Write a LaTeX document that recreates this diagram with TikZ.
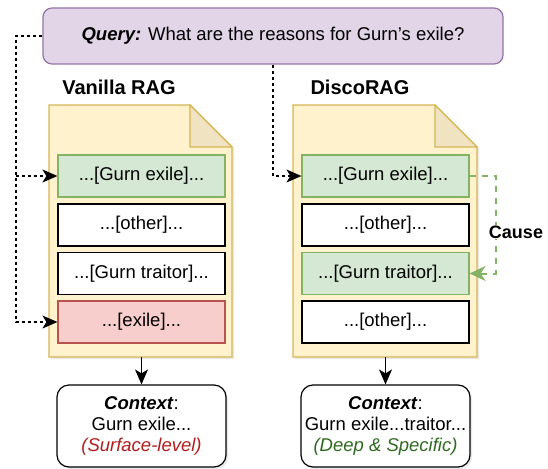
\documentclass[tikz,border=0pt]{standalone}
\usepackage{fontspec}
\setmainfont{Liberation Sans}
\usepackage{xcolor}
\usetikzlibrary{arrows.meta, calc, positioning, shadows}

\definecolor{qfill}{HTML}{E1D5E7}
\definecolor{qline}{HTML}{9673A6}
\definecolor{docfill}{HTML}{FFF2CC}
\definecolor{docline}{HTML}{D6B656}
\definecolor{foldfill}{HTML}{EFE3C2}
\definecolor{hitfill}{HTML}{D5E8D4}
\definecolor{hitline}{HTML}{82B366}
\definecolor{missfill}{HTML}{F8CECC}
\definecolor{missline}{HTML}{B85450}
\definecolor{shallow}{HTML}{B01E1E}
\definecolor{deep}{HTML}{2D6A1F}

\begin{document}
\begin{tikzpicture}[x=1pt, y=-1pt, line width=1.2pt,
    font=\fontsize{18.5}{22}\selectfont,
    softshadow/.style={drop shadow={shadow xshift=2pt, shadow yshift=-2pt, opacity=0.18}},
    chunk/.style={draw, fill=white, minimum width=167pt, minimum height=42pt, inner sep=0pt},
    hit/.style={chunk, draw=hitline, fill=hitfill},
    miss/.style={chunk, draw=missline, fill=missfill},
    ctxbox/.style={draw, fill=white, rounded corners=12pt, minimum width=169pt, minimum height=82pt,
        align=center, inner sep=0pt, softshadow, font=\fontsize{18.5}{21}\selectfont},
    title/.style={font=\fontsize{20}{24}\selectfont\bfseries},
    tip/.style={-{Stealth[length=15pt, width=13pt, inset=4pt]}},
    qlink/.style={dash pattern=on 3pt off 3pt, tip},
    causelink/.style={hitline, line width=2pt, dash pattern=on 6pt off 6pt, -{Stealth[length=16pt, width=15pt, inset=5pt]}}]
    \useasboundingbox (0,0) rectangle (548,468);

    % query
    \node[draw=qline, fill=qfill, rounded corners=9pt, minimum width=460pt, minimum height=56pt]
        (query) at (273,36) {\textbf{\textit{Query:}} What are the reasons for Gurn's exile?};

    \node[title] (vtitle) at (119,87) {Vanilla RAG};
    \node[title] (dtitle) at (360,87) {DiscoRAG};

    % documents
    \draw[docline, fill=docfill, softshadow] (49,105) -- (190,105) -- (232,147) -- (232,357) -- (49,357) -- cycle;
    \draw[docline, fill=foldfill] (190,105) -- (190,147) -- (232,147) -- cycle;
    \draw[docline, fill=docfill, softshadow] (293,105) -- (435,105) -- (477,147) -- (477,357) -- (293,357) -- cycle;
    \draw[docline, fill=foldfill] (435,105) -- (435,147) -- (477,147) -- cycle;

    \node[hit] (v1) at (141.5,176) {...[Gurn exile]...};
    \node[chunk] (v2) at (141.5,225) {...[other]...};
    \node[chunk] (v3) at (141.5,273.5) {...[Gurn traitor]...};
    \node[miss] (v4) at (141.5,322) {...[exile]...};

    \node[hit] (d1) at (385.5,176) {...[Gurn exile]...};
    \node[chunk] (d2) at (385.5,225) {...[other]...};
    \node[hit] (d3) at (385.5,273.5) {...[Gurn traitor]...};
    \node[chunk] (d4) at (385.5,322) {...[other]...};

    % retrieval links
    \coordinate (qturn) at (16,36);
    \draw[qlink] (query.west) -- (qturn) |- (v4.west);
    \draw[qlink] (qturn |- v1.west) -- (v1.west);
    \draw[qlink] (query.south) |- (d1.west);

    \draw[causelink] (d1.east) -- ++(26,0) |- (d3.east);
    \node[fill=white, inner sep=1pt, font=\fontsize{18}{22}\selectfont\bfseries] (cause) at (516,232) {Cause};

    % contexts
    \node[ctxbox] (vctx) at (141.5,426) {\textbf{\textit{Context}}:\\Gurn exile...\\\textcolor{shallow}{\textit{(Surface-level)}}};
    \node[ctxbox] (dctx) at (385.5,426) {\textbf{\textit{Context}}:\\Gurn exile...traitor...\\\textcolor{deep}{\textit{(Deep \& Specific)}}};

    \coordinate (vbot) at (141.5,357);
    \coordinate (dbot) at (385.5,357);
    \draw[tip] (vbot) -- (vctx.north);
    \draw[tip] (dbot) -- (dctx.north);
\end{tikzpicture}
\end{document}
